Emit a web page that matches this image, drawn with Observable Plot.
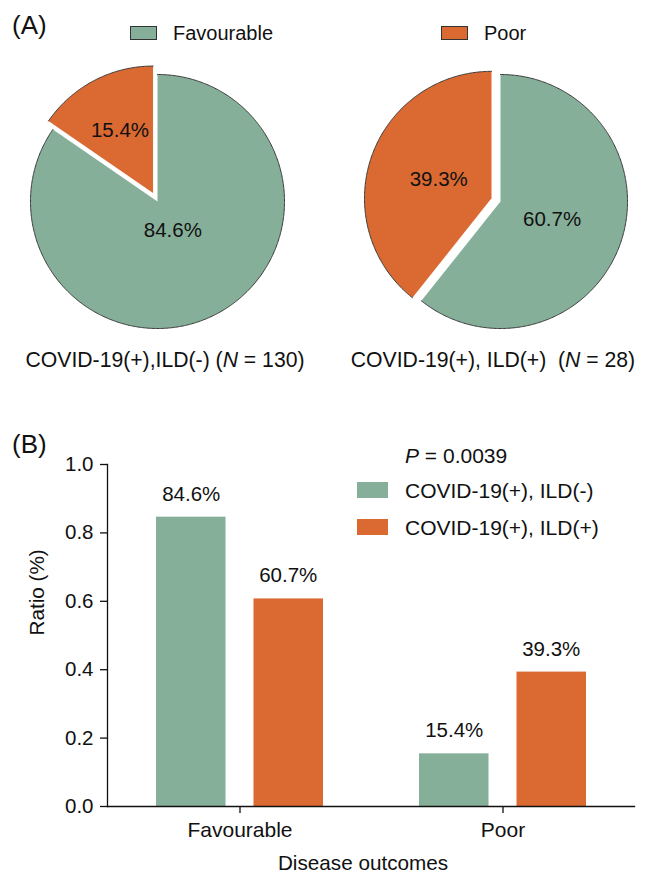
<!DOCTYPE html>
<html><head><meta charset="utf-8">
<script src="https://cdn.jsdelivr.net/npm/d3@7"></script>
<script src="https://cdn.jsdelivr.net/npm/@observablehq/plot@0.6"></script>
<style>
body{margin:0;background:#fff;}
#wrap{position:relative;width:651px;height:875px;font-family:"Liberation Sans",Arial,sans-serif;color:#111;overflow:hidden;}
.abs{position:absolute;white-space:pre;line-height:1;}
.sw{position:absolute;box-sizing:border-box;}
</style></head><body><div id="wrap"></div>
<script>
// ---------- data ----------
const outcomes = ["Favourable", "Poor"];
const groups = ["COVID-19(+), ILD(-)", "COVID-19(+), ILD(+)"];
const groupN = [130, 28];
const pieCaptionPrefix = ["COVID-19(+),ILD(-) ", "COVID-19(+), ILD(+)  "];
const ratioIldNeg = [0.846, 0.154];
const ratioIldPos = [0.607, 0.393];
const pValue = "0.0039";
const yTicks = [0, 0.2, 0.4, 0.6, 0.8, 1.0];
const colors = ["#86af9a", "#da6932"];

const FONT = '"Liberation Sans", Arial, sans-serif';
const wrap = document.getElementById("wrap");
const pct = d3.format(".1%");

function addDiv(html, css, cls = "abs") {
  const d = document.createElement("div");
  d.className = cls;
  d.innerHTML = html;
  Object.assign(d.style, css);
  wrap.appendChild(d);
  return d;
}

// ---------- panel A: pies ----------
const pieValues = [ratioIldNeg, ratioIldPos];
const labelRadius = [[0.26, 0.56], [0.43, 0.44]];
const EXPLODE = 0.075;
const pieCenters = [[157, 201], [500, 201]];
const PIE_SIZE = 300, PIE_DOM = 1.181;

pieValues.forEach((vals, p) => {
  const arcs = d3.pie().sort(null).value(d => d)(vals);
  const marks = [];
  const labels = [];
  arcs.forEach((a, i) => {
    const mid = (a.startAngle + a.endAngle) / 2;
    const off = i === 1 ? EXPLODE : 0;
    const cx = off * Math.sin(mid), cy = off * Math.cos(mid);
    const n = Math.max(4, Math.ceil((a.endAngle - a.startAngle) / 0.01));
    const arcPts = [];
    for (let k = 0; k <= n; k++) {
      const t = a.startAngle + (a.endAngle - a.startAngle) * k / n;
      arcPts.push({x: cx + Math.sin(t), y: cy + Math.cos(t)});
    }
    const poly = [{x: cx, y: cy}, ...arcPts, {x: cx, y: cy}];
    marks.push(Plot.line(poly, {x: "x", y: "y", fill: colors[i], stroke: "none"}));
    marks.push(Plot.line(arcPts, {x: "x", y: "y", stroke: "#3a3a3a", strokeWidth: 1}));
    const lr = labelRadius[p][i];
    labels.push({x: cx + lr * Math.sin(mid), y: cy + lr * Math.cos(mid), text: pct(vals[i])});
  });
  marks.push(Plot.text(labels, {x: "x", y: "y", text: "text", fontSize: 20.5, fill: "#111"}));
  const svg = Plot.plot({
    width: PIE_SIZE, height: PIE_SIZE,
    margin: 0,
    x: {domain: [-PIE_DOM, PIE_DOM], axis: null},
    y: {domain: [-PIE_DOM, PIE_DOM], axis: null},
    style: {fontFamily: FONT, background: "transparent", overflow: "visible"},
    marks
  });
  svg.style.position = "absolute";
  svg.style.left = (pieCenters[p][0] - PIE_SIZE / 2) + "px";
  svg.style.top = (pieCenters[p][1] - PIE_SIZE / 2) + "px";
  wrap.appendChild(svg);
  addDiv(`${pieCaptionPrefix[p]}(<i>N</i> = ${groupN[p]})`,
    {left: pieCenters[p][0] + (p === 0 ? 8 : -7) + "px", top: "349px", fontSize: "21.2px", transform: "translateX(-50%)"});
});

addDiv("(A)", {left: "12px", top: "12px", fontSize: "26px"});
// legend A
const legA = [[130, 173], [441, 484]];
outcomes.forEach((o, i) => {
  addDiv("", {left: legA[i][0] + "px", top: "26px", width: "27px", height: "14px", background: colors[i], border: "1.3px solid #333"}, "sw");
  addDiv(o, {left: legA[i][1] + "px", top: "23px", fontSize: "20px"});
});

// ---------- panel B: grouped bars ----------
const barData = outcomes.flatMap((o, i) =>
  groups.map((g, j) => ({outcome: o, group: g, value: (j === 0 ? ratioIldNeg : ratioIldPos)[i]})));

const bars = Plot.plot({
  width: 651, height: 465,
  marginLeft: 107, marginRight: 17, marginTop: 54, marginBottom: 69,
  x: {domain: outcomes, padding: 0, axis: null},
  y: {domain: [0, 1], axis: null},
  style: {fontFamily: FONT, fontSize: "20.5px", color: "#111", background: "transparent", overflow: "visible"},
  marks: [
    ...groups.map((g, j) => Plot.barY(barData.filter(d => d.group === g), {
      x: "outcome", y: "value", fill: colors[j],
      insetLeft: j === 0 ? 48 : 145.5, insetRight: j === 0 ? 145.5 : 48
    })),
    ...groups.map((g, j) => Plot.text(barData.filter(d => d.group === g), {
      x: "outcome", y: "value", text: d => pct(d.value),
      dx: j === 0 ? -48.75 : 48.25, dy: -23, fontSize: 20.5, fill: "#111"
    })),
    Plot.frame({anchor: "left", stroke: "#111", strokeWidth: 1.3}),
    Plot.frame({anchor: "bottom", stroke: "#111", strokeWidth: 1.3}),
    Plot.axisY({ticks: yTicks, tickSize: 7, tickPadding: 7, tickFormat: d3.format(".1f"), fontSize: 20.5, stroke: "#111", strokeWidth: 1.3, label: null}),
    Plot.axisX({tickSize: 7, tickPadding: 9, fontSize: 21, stroke: "#111", strokeWidth: 1.3, label: null}),
    Plot.text(["Ratio (%)"], {frameAnchor: "left", dx: -70, rotate: -90, fontSize: 20.7, fill: "#111"}),
    Plot.text(["Disease outcomes"], {frameAnchor: "bottom", dy: 63, dx: -8, fontSize: 20.7, fill: "#111"})
  ]
});
bars.style.position = "absolute";
bars.style.left = "0px";
bars.style.top = "410px";
wrap.appendChild(bars);

addDiv("(B)", {left: "12px", top: "431px", fontSize: "26px"});
addDiv(`<i>P</i> = ${pValue}`, {left: "405px", top: "445px", fontSize: "21px"});
const legBY = [482, 519];
groups.forEach((g, j) => {
  addDiv("", {left: "357px", top: legBY[j] + "px", width: "31px", height: "16px", background: colors[j]}, "sw");
  addDiv(g, {left: "405px", top: (legBY[j] - 2) + "px", fontSize: "21px"});
});
</script></body></html>
